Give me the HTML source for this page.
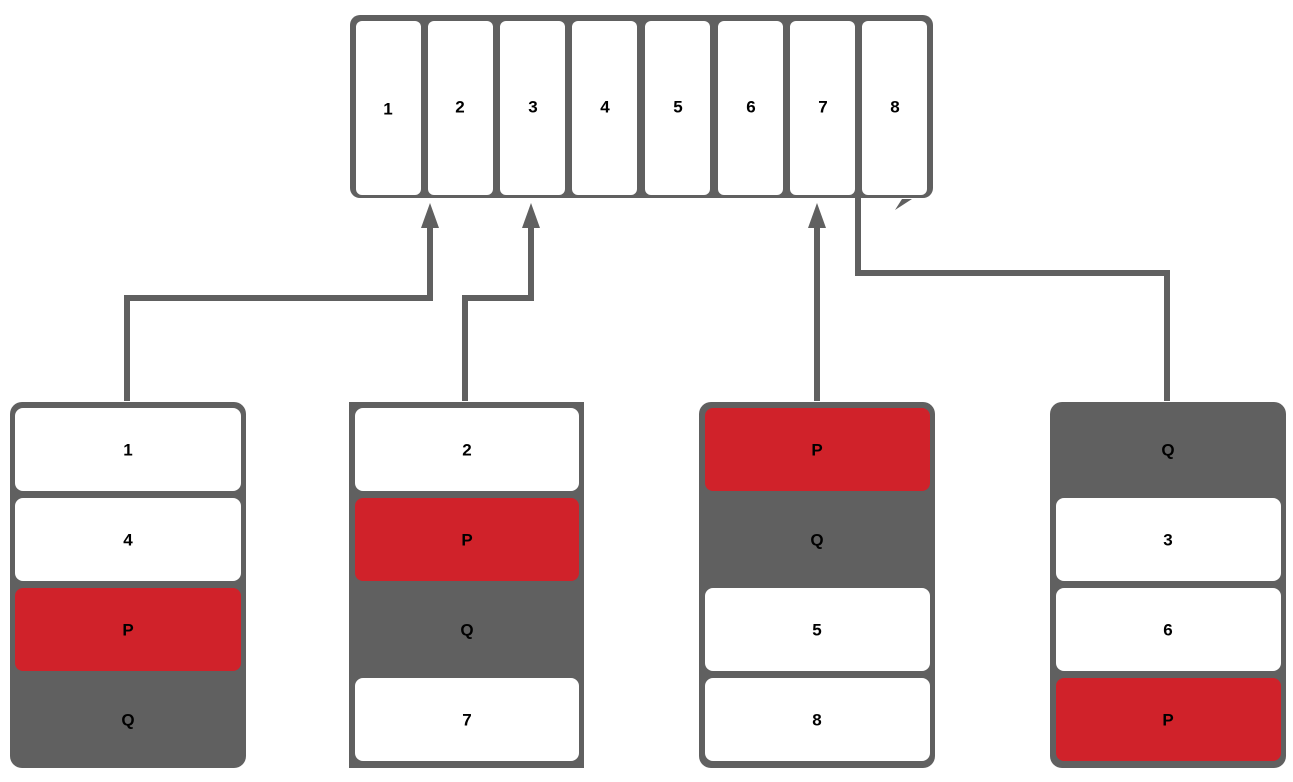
<!DOCTYPE html>
<html><head><meta charset="utf-8"><style>
html,body{margin:0;padding:0;background:#fff;}
svg{display:block;}
text{font-family:"Liberation Sans",Arial,sans-serif;font-weight:bold;font-size:17px;fill:#000;text-anchor:middle;dominant-baseline:central;}
</style></head><body>
<svg width="1293" height="782" viewBox="0 0 1293 782">
<g fill="none" stroke="#606060" stroke-width="6">
<polyline points="127,401 127,298 430,298 430,220"/>
<polyline points="465,401 465,298 531,298 531,220"/>
<polyline points="817,401 817,220"/>
<polyline points="1167,401 1167,273 858,273 858,198"/>
</g>
<g fill="#606060">
<polygon points="430,203 421,228 439,228"/>
<polygon points="531,203 522,228 540,228"/>
<polygon points="817,203 808,228 826,228"/>
<polygon points="895,210 912,199 902,199"/>
</g>
<rect x="350" y="15" width="583" height="183" rx="10" fill="#606060"/>
<g fill="#fff">
<rect x="356" y="21" width="65" height="174" rx="6"/>
<rect x="428" y="21" width="65" height="174" rx="6"/>
<rect x="500" y="21" width="65" height="174" rx="6"/>
<rect x="572" y="21" width="65" height="174" rx="6"/>
<rect x="645" y="21" width="65" height="174" rx="6"/>
<rect x="718" y="21" width="65" height="174" rx="6"/>
<rect x="790" y="21" width="65" height="174" rx="6"/>
<rect x="862" y="21" width="65" height="174" rx="6"/>
</g>
<text x="388" y="109">1</text><text x="460" y="107">2</text><text x="533" y="107">3</text><text x="605" y="107">4</text><text x="678" y="107">5</text><text x="751" y="107">6</text><text x="823" y="107">7</text><text x="895" y="107">8</text>

<rect x="10" y="402" width="236" height="366" rx="12" fill="#606060"/>
<rect x="349" y="402" width="235" height="366" fill="#606060"/>
<rect x="699" y="402" width="236" height="366" rx="12" fill="#606060"/>
<rect x="1050" y="402" width="236" height="366" rx="12" fill="#606060"/>

<g>
<rect x="15" y="408" width="226" height="83" rx="8" fill="#fff"/>
<rect x="15" y="498" width="226" height="83" rx="8" fill="#fff"/>
<rect x="15" y="588" width="226" height="83" rx="8" fill="#D0222A"/>

<rect x="355" y="408" width="224" height="83" rx="8" fill="#fff"/>
<rect x="355" y="498" width="224" height="83" rx="8" fill="#D0222A"/>
<rect x="355" y="678" width="224" height="83" rx="8" fill="#fff"/>

<rect x="705" y="408" width="225" height="83" rx="8" fill="#D0222A"/>
<rect x="705" y="588" width="225" height="83" rx="8" fill="#fff"/>
<rect x="705" y="678" width="225" height="83" rx="8" fill="#fff"/>

<rect x="1056" y="498" width="225" height="83" rx="8" fill="#fff"/>
<rect x="1056" y="588" width="225" height="83" rx="8" fill="#fff"/>
<rect x="1056" y="678" width="225" height="83" rx="8" fill="#D0222A"/>
</g>
<text x="128" y="450">1</text><text x="128" y="540">4</text><text x="128" y="630">P</text><text x="128" y="720">Q</text>
<text x="467" y="450">2</text><text x="467" y="540">P</text><text x="467" y="630">Q</text><text x="467" y="720">7</text>
<text x="817" y="450">P</text><text x="817" y="540">Q</text><text x="817" y="630">5</text><text x="817" y="720">8</text>
<text x="1168" y="450">Q</text><text x="1168" y="540">3</text><text x="1168" y="630">6</text><text x="1168" y="720">P</text>
</svg>
</body></html>
